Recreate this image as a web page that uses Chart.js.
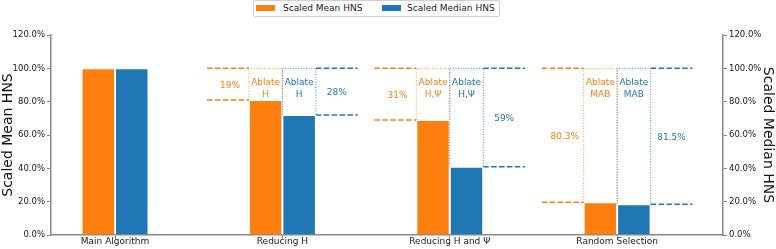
<!DOCTYPE html>
<html>
<head>
<meta charset="utf-8">
<script src="https://cdn.jsdelivr.net/npm/chart.js@4.4.1/dist/chart.umd.min.js"></script>
<style>
  html, body { margin: 0; padding: 0; background: #fff; }
  #wrap { position: relative; width: 776px; height: 249px; font-family: "DejaVu Sans", sans-serif; }
  #legend { position: absolute; left: 253px; top: 0; width: 245px; height: 15px; border: 1px solid #cfcfcf; border-radius: 2px; background: #fff; font-size: 9px; color: #222; }
  #legend .sw { position: absolute; top: 4px; width: 19px; height: 6px; }
  #legend .tx { position: absolute; top: 2px; line-height: 11px; white-space: nowrap; }
</style>
</head>
<body>
<div id="wrap">
  <canvas id="chart" width="776" height="249"></canvas>
  <div id="legend"></div>
</div>
<script>
const categories = ["Main Algorithm", "Reducing H", "Reducing H and Ψ", "Random Selection"];
const positions = [0, 1, 2, 3];
const meanHNS = [100, 81, 69, 19.7];
const medianHNS = [100, 72, 41, 18.5];
const meanDrop = ["", "19%", "31%", "80.3%"];
const medianDrop = ["", "28%", "59%", "81.5%"];
const ablated = ["", "H", "H,Ψ", "MAB"];
const seriesNames = ["Scaled Mean HNS", "Scaled Median HNS"];

const ORANGE = "#ff7f0e";
const BLUE = "#1f77b4";
const AXIS = "#8a8a8a";

Chart.defaults.font.family = "'DejaVu Sans', sans-serif";

// legend, matplotlib style box
const legendEl = document.getElementById("legend");
[[ORANGE, 2, 29], [BLUE, 128, 153]].forEach(([c, sx, tx], i) => {
  const sw = document.createElement("div");
  sw.className = "sw";
  sw.style.left = sx + "px";
  sw.style.background = c;
  const t = document.createElement("div");
  t.className = "tx";
  t.style.left = tx + "px";
  t.textContent = seriesNames[i];
  legendEl.appendChild(sw);
  legendEl.appendChild(t);
});

const ablationMarks = {
  id: "ablationMarks",
  afterDatasetsDraw(chart) {
    const ctx = chart.ctx;
    const xs = chart.scales.x;
    const ext = xs.getPixelForValue(0.25) - xs.getPixelForValue(0);
    const metaMean = chart.getDatasetMeta(0);
    const metaMed = chart.getDatasetMeta(1);
    const top = chart.scales.y.getPixelForValue(100);

    const hline = (x1, x2, y, color) => {
      ctx.save();
      ctx.strokeStyle = color;
      ctx.lineWidth = 1.5;
      ctx.setLineDash([5.5, 2.4]);
      ctx.beginPath();
      ctx.moveTo(x1, y);
      ctx.lineTo(x2, y);
      ctx.stroke();
      ctx.restore();
    };
    const box = (x1, x2, y1, y2, color) => {
      ctx.save();
      ctx.strokeStyle = color;
      ctx.globalAlpha = 0.8;
      ctx.lineWidth = 1;
      ctx.setLineDash([1, 1.6]);
      ctx.beginPath();
      ctx.moveTo(x1, y2);
      ctx.lineTo(x1, y1);
      ctx.lineTo(x2, y1);
      ctx.lineTo(x2, y2);
      ctx.stroke();
      ctx.restore();
    };
    const text = (s, x, y, color) => {
      ctx.save();
      ctx.fillStyle = color;
      ctx.font = "9px 'DejaVu Sans', sans-serif";
      ctx.textAlign = "center";
      ctx.textBaseline = "middle";
      ctx.fillText(s, x, y);
      ctx.restore();
    };

    positions.forEach((p, i) => {
      if (!meanDrop[i]) return;
      const bm = metaMean.data[i];
      const bd = metaMed.data[i];
      const mL = bm.x - bm.width / 2, mR = bm.x + bm.width / 2;
      const dL = bd.x - bd.width / 2, dR = bd.x + bd.width / 2;

      hline(mL - ext, mL, top, ORANGE);
      hline(mL - ext, mL, bm.y, ORANGE);
      box(mL, mR, top, bm.y, ORANGE);
      text("Ablate", bm.x, top + 14.5, ORANGE);
      text(ablated[i], bm.x, top + 26.5, ORANGE);
      text(meanDrop[i], mL - ext * 0.45, (top + bm.y) / 2 + 1, ORANGE);

      hline(dR, dR + ext, top, BLUE);
      hline(dR, dR + ext, bd.y, BLUE);
      box(dL, dR, top, bd.y, BLUE);
      text("Ablate", bd.x, top + 14.5, BLUE);
      text(ablated[i], bd.x, top + 26.5, BLUE);
      text(medianDrop[i], dR + ext * 0.5, (top + bd.y) / 2 + 1, BLUE);
    });
  }
};

const yAxis = (pos, title) => ({
  position: pos,
  min: 0,
  max: 120,
  grid: { display: true, drawOnChartArea: false, drawTicks: true, tickLength: 4, color: AXIS },
  border: { display: true, color: AXIS, width: 1.5 },
  ticks: {
    stepSize: 20,
    padding: 2,
    color: "#1a1a1a",
    font: { size: 8.5 },
    callback: v => v.toFixed(1) + "%"
  },
  title: { display: true, text: title, color: "#111", font: { size: 14 }, padding: { top: 0, bottom: 0 } },
  afterFit: s => { s.width = pos === "left" ? 51 : 53; }
});

new Chart(document.getElementById("chart"), {
  type: "bar",
  data: {
    datasets: [
      {
        label: seriesNames[0],
        data: positions.map((p, i) => ({ x: p, y: meanHNS[i] })),
        backgroundColor: ORANGE,
        borderColor: "rgba(255,255,255,0.18)",
        borderWidth: 1,
        yAxisID: "y",
        categoryPercentage: 0.4,
        barPercentage: 1.0
      },
      {
        label: seriesNames[1],
        data: positions.map((p, i) => ({ x: p, y: medianHNS[i] })),
        backgroundColor: BLUE,
        borderColor: "rgba(255,255,255,0.18)",
        borderWidth: 1,
        yAxisID: "y2",
        categoryPercentage: 0.4,
        barPercentage: 1.0
      }
    ]
  },
  options: {
    responsive: false,
    animation: false,
    layout: { padding: { top: 35, left: 0, right: 0, bottom: 0 } },
    plugins: {
      legend: { display: false },
      tooltip: { enabled: false }
    },
    scales: {
      x: {
        type: "linear",
        min: -0.3825,
        max: 3.6325,
        offset: false,
        grid: { display: true, drawOnChartArea: false, drawTicks: true, tickLength: 4, color: AXIS, offset: false },
        border: { display: true, color: AXIS, width: 1.5 },
        afterBuildTicks: s => { s.ticks = positions.map(v => ({ value: v })); },
        afterFit: s => { s.height = 14; },
        ticks: {
          autoSkip: false,
          maxRotation: 0,
          padding: -3,
          color: "#1a1a1a",
          font: { size: 9 },
          callback: v => categories[positions.indexOf(v)] ?? ""
        }
      },
      y: yAxis("left", "Scaled Mean HNS"),
      y2: yAxis("right", "Scaled Median HNS")
    }
  },
  plugins: [ablationMarks]
});
</script>
</body>
</html>
